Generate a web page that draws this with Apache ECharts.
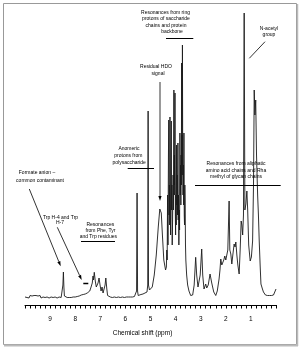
<!DOCTYPE html>
<html><head><meta charset="utf-8">
<script src="https://cdn.jsdelivr.net/npm/echarts@6/dist/echarts.min.js"></script>
<style>html,body{margin:0;padding:0;background:#fff}#c{width:300px;height:348px}</style>
</head><body><div id="c"></div>
<script>
// Tick labels shown on the chemical-shift axis (ppm)
const tickLabels = [1, 2, 3, 4, 5, 6, 7, 8, 9];
// Spectrum: chemical shift (ppm) and signal intensity (arbitrary units)
const shift = [
 10.00,9.96,9.92,9.88,9.84,9.80,9.76,9.72,9.68,9.64,9.60,9.56,9.52,9.48,9.44,9.40,9.36,9.32,9.28,9.24,
 9.20,9.16,9.12,9.08,9.04,9.00,8.96,8.92,8.88,8.84,8.80,8.76,8.72,8.68,8.64,8.60,8.56,8.52,
 8.49,8.47,8.45,8.43,8.40,8.36,8.32,8.28,8.24,8.20,8.16,8.12,8.08,8.04,8.00,7.96,7.92,7.88,7.84,7.80,
 7.76,7.72,7.68,7.64,7.60,7.56,7.52,7.50,7.46,7.42,7.38,7.36,
 7.32,7.29,7.27,7.24,7.20,7.16,7.13,7.09,7.05,7.01,6.97,6.93,6.89,6.85,6.81,6.78,6.74,6.71,6.68,6.64,
 6.60,6.56,6.52,6.48,6.44,6.40,6.36,6.32,6.28,6.24,6.20,6.16,6.12,6.08,6.04,6.00,5.96,5.92,5.88,5.84,
 5.80,5.76,5.72,5.68,5.64,5.60,5.58,5.555,5.535,5.515,5.49,5.46,5.42,5.38,5.34,5.30,
 5.26,5.22,5.18,5.14,5.11,5.095,5.08,5.04,5.00,4.93,4.85,4.77,4.69,4.63,4.60,4.57,4.53,4.47,4.40,
 4.368,4.350,4.336,4.320,4.304,4.285,4.272,4.260,4.248,4.236,4.224,4.210,4.200,4.186,4.172,4.160,4.148,4.135,4.120,4.100,
 4.085,4.068,4.058,4.048,4.036,4.024,4.010,4.000,3.990,3.975,3.960,3.948,3.936,3.922,3.908,3.896,3.884,3.870,3.856,3.842,
 3.828,3.814,3.800,3.790,3.780,3.770,3.760,3.750,3.744,3.736,3.728,3.716,3.704,3.690,3.680,3.668,3.656,3.644,3.632,3.620,
 3.606,3.592,3.56,3.52,3.468,3.40,3.32,3.26,3.20,3.16,
 3.108,3.06,3.02,2.96,2.92,2.868,2.80,2.76,2.70,2.628,2.56,2.48,2.40,2.34,2.268,2.232,2.20,2.16,2.132,2.08,
 2.04,2.00,1.96,1.92,1.868,1.84,1.80,1.76,1.72,1.668,1.632,1.60,1.56,1.52,1.468,1.428,1.388,1.36,1.328,1.296,
 1.268,1.24,1.20,1.16,1.128,1.088,1.028,0.98,0.932,0.896,0.868,0.84,0.808,0.776,0.732,0.70,0.668,0.632,0.60,0.54,
 0.50,0.46,0.42,0.38,0.34,0.30,0.26,0.22,0.18,0.14,0.10,0.06,0.03,0.00
];
const signal = [
 8,9.5,7.5,9,7,9.5,8,9,7,9.5,8,9.5,7.5,9,8,9.5,7,9,8,9.5,
 7.5,9,8,9.5,7,9,8,9.5,7.5,9,8,9.5,7,9,8,9.5,7.5,9,
 20,33,18,9,7.5,9,7.5,9.5,7.5,9,7.5,9.5,8,9.5,8,10,8.5,10,9,10.5,
 10,11,10.5,11.5,11,12.5,12,13,12.5,14,17,18,
 22,29,25,32.7,24,18,16,22,27,20,14,18,12,11,20,27,16,9.5,8,9.5,
 8,9.5,7.5,9,8,9.5,7.5,9,8,9.5,7.5,9,8,9.5,7.5,9,8,9.5,8,9.5,
 8,9.5,8,9.5,8.5,10,10,14,112,14,9.5,10.5,9,10.5,10,11,
 11,12,12,13,20,194,20,15,14,18,30,50,78,96,98,92,72,45,35,
 38,55,45,110,60,150,185,90,120,80,188,100,70,140,184,95,120,60,85,130,
 95,215,120,150,110,212,90,70,110,80,160,100,130,90,162,85,110,60,95,75,
 172,110,140,100,150,120,242,140,170,130,260,140,110,140,100,172,90,80,120,105,
 60,45,30,20,14,9.5,10,20,47.7,30,
 18,20,30,56,30,16,21,17,20,31,22,13,9.5,14,26,35,46,40,38,45,
 49,45,43,55,104,55,51,41,50,61,58,63,50,40,31,55,84,80,70,90,
 292,95,101,114,95,60,44,48,64,120,215,190,205,150,110,90,64,40,21,16,
 13,11.5,10,8.5,9.5,8,9.5,8,9.5,8.5,10,9.5,11,16
];
const spectrum = shift.map((s, i) => [s, signal[i]]);

const FONT = '"Liberation Sans", Arial, sans-serif';
function txt(t, x, y, size) {
  return {type:'text', x:x, y:y, z:10, style:{text:t, fill:'#000', fontSize:size||5, fontFamily:FONT,
    align:'center', verticalAlign:'middle', textAlign:'center', textVerticalAlign:'middle'}};
}
function seg(x1,y1,x2,y2,w) {
  return {type:'line', z:10, shape:{x1:x1,y1:y1,x2:x2,y2:y2}, style:{stroke:'#000', lineWidth:w||1}};
}
function arrow(x1,y1,x2,y2) {
  const dx=x2-x1, dy=y2-y1, L=Math.hypot(dx,dy), ux=dx/L, uy=dy/L;
  const bx=x2-ux*5, by=y2-uy*5, px=-uy*1.6, py=ux*1.6;
  return [seg(x1,y1,bx,by,0.8),
    {type:'polygon', z:10, shape:{points:[[x2,y2],[bx+px,by+py],[bx-px,by-py]]}, style:{fill:'#000'}}];
}

const graphics = [
  {type:'rect', z:0, shape:{x:3.5,y:3.5,width:293,height:341}, style:{fill:'none', stroke:'#999', lineWidth:1}},
  {type:'line', z:0, shape:{x1:4,y1:345.5,x2:298,y2:345.5}, style:{stroke:'#bbb', lineWidth:2}},
  {type:'line', z:0, shape:{x1:297.5,y1:4,x2:297.5,y2:346}, style:{stroke:'#bbb', lineWidth:1.5}},
  txt('Resonances from ring',165.5,12.7), txt('protons of saccharide',166,19), txt('chains and protein',166,25.3), txt('backbone',172,31.7),
  seg(166,38.5,193.3,38.5),
  txt('Residual HDO',156,67), txt('signal',158,73.5),
  ...arrow(160,82,160,201),
  txt('N-acetyl',269,28.3), txt('group',269,34.3),
  seg(265,41.7,249.3,58.3,0.8),
  txt('Anomeric',129,148.3), txt('protons from',128.3,155.5), txt('polysaccharide',129.2,162.3),
  seg(127.7,168.5,154,168.5),
  txt('Resonances from aliphatic',236,164), txt('amino acid chains and Rha',236,170.5), txt('methyl of glycan chains',236,177),
  seg(195,185.5,280.7,185.5),
  txt('Formate anion \u2013',37,173), txt('common contaminant',40,180.7),
  ...arrow(29.3,189,60.7,266.3),
  txt('Trp H-4 and Trp',60.5,217.3), txt('H-7',60,222.5),
  ...arrow(57.3,227.3,81.7,280),
  seg(83.3,283.5,88.3,283.5,1.5),
  txt('Resonances',100.3,225), txt('from Phe, Tyr',100.5,230.5), txt('and Trp residues',98.3,236.7),
  seg(81,241.5,115,241.5),
  txt('Chemical shift (ppm)',142.5,333,6.5)
];

const chart = echarts.init(document.getElementById('c'), null, {renderer:'canvas'});
chart.setOption({
  animation:false,
  backgroundColor:'#fff',
  grid:{left:25, right:24, top:5, bottom:43},
  xAxis:{type:'value', inverse:true, min:0, max:10, interval:1,
    axisLine:{show:true, lineStyle:{color:'#000', width:1}},
    axisTick:{show:true, length:3.5, lineStyle:{color:'#000'}},
    minorTick:{show:true, splitNumber:5, length:3.5, lineStyle:{color:'#000'}},
    splitLine:{show:false}, minorSplitLine:{show:false},
    axisLabel:{margin:11, fontSize:6.5, color:'#000', fontFamily:FONT,
      formatter:function(v){ return tickLabels.indexOf(Math.round(v))>=0 && Math.abs(v-Math.round(v))<1e-6 ? String(Math.round(v)) : ''; }}
  },
  yAxis:{type:'value', min:0, max:300, show:false},
  series:[{type:'line', data:spectrum, showSymbol:false, symbol:'none',
    lineStyle:{color:'#1a1a1a', width:0.9}, silent:true}],
  graphic:graphics
});
</script></body></html>
